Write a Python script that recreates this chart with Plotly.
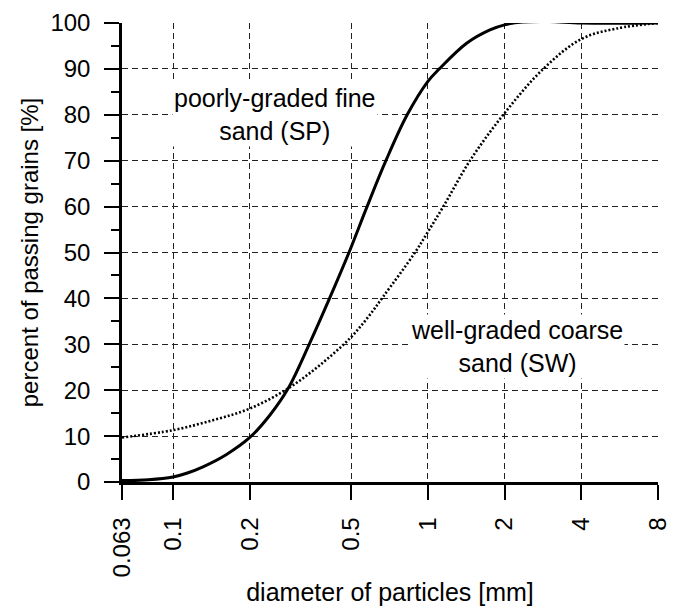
import math
import plotly.graph_objects as go

# --- data ---
sp_diam = [0.063, 0.08, 0.1, 0.113, 0.131, 0.162, 0.2, 0.24, 0.283, 0.342, 0.411, 0.49, 0.577, 0.684, 0.829, 1.0, 1.108, 1.419, 1.752, 2.0, 2.36, 3.0, 4.0, 8.0]
sp_pass = [0.3, 0.5, 1.1, 1.9, 3.3, 6.0, 9.7, 14.6, 20.4, 30.0, 40.0, 50.0, 60.0, 70.0, 80.0, 87.3, 90.0, 95.6, 98.5, 99.6, 100.2, 100.3, 100.0, 100.0]

sw_diam = [0.063, 0.1, 0.144, 0.2, 0.283, 0.377, 0.494, 0.58, 0.67, 0.89, 1.0, 1.149, 1.462, 1.976, 2.837, 4.0, 5.5, 8.0]
sw_pass = [9.7, 11.3, 13.5, 16.0, 20.4, 25.5, 31.3, 35.8, 40.5, 50.0, 54.5, 60.0, 70.0, 80.0, 90.0, 96.5, 98.8, 100.0]

x_ticks = [0.063, 0.1, 0.2, 0.5, 1, 2, 4, 8]
x_tick_labels = ["0.063", "0.1", "0.2", "0.5", "1", "2", "4", "8"]
y_ticks = [0, 10, 20, 30, 40, 50, 60, 70, 80, 90, 100]

label_sp = "poorly-graded fine<br>sand (SP)"
label_sw = "well-graded coarse<br>sand (SW)"

FONT = "Liberation Sans, Arial, sans-serif"

fig = go.Figure()
fig.add_trace(go.Scatter(x=sp_diam, y=sp_pass, mode="lines",
                         line=dict(color="black", width=3, shape="spline", smoothing=1.0),
                         showlegend=False))
fig.add_trace(go.Scatter(x=sw_diam, y=sw_pass, mode="lines",
                         line=dict(color="black", width=2.6, dash="2px,2px", shape="spline", smoothing=1.0),
                         showlegend=False))

fig.add_annotation(x=math.log10(0.251), y=80.0, text=label_sp, showarrow=False,
                   font=dict(size=25, color="black", family=FONT), bgcolor="white", borderpad=1)
fig.add_annotation(x=math.log10(2.236), y=29.6, text=label_sw, showarrow=False,
                   font=dict(size=25, color="black", family=FONT), bgcolor="white", borderpad=1)

fig.update_layout(
    width=678, height=606,
    margin=dict(l=122, r=20, t=23, b=124),
    plot_bgcolor="white", paper_bgcolor="white",
    font=dict(family=FONT, size=24, color="black"),
    xaxis=dict(
        type="log", range=[math.log10(0.063), math.log10(8)],
        tickmode="array", tickvals=x_ticks, ticktext=x_tick_labels, tickangle=-90,
        tickfont=dict(size=24), automargin=False,
        ticks="outside", ticklen=15, tickwidth=2, tickcolor="black", ticklabelstandoff=8,
        showline=True, linewidth=2.5, linecolor="black",
        showgrid=True, gridcolor="#222", gridwidth=1.2, griddash="6px,4px",
        zeroline=False,
        title=dict(text="diameter of particles [mm]", font=dict(size=25), standoff=8),
    ),
    yaxis=dict(
        range=[0, 100], tickmode="array", tickvals=y_ticks,
        tickfont=dict(size=24), automargin=False,
        ticks="outside", ticklen=15, tickwidth=2, tickcolor="black", ticklabelstandoff=9,
        minor=dict(dtick=5, tick0=0, ticks="outside", ticklen=8, tickwidth=2, tickcolor="black", showgrid=False),
        showline=True, linewidth=2.5, linecolor="black",
        showgrid=True, gridcolor="#222", gridwidth=1.2, griddash="6px,4px",
        zeroline=False,
        title=dict(text="percent of passing grains [%]", font=dict(size=24), standoff=6),
    ),
)

fig.write_html("out.html")
